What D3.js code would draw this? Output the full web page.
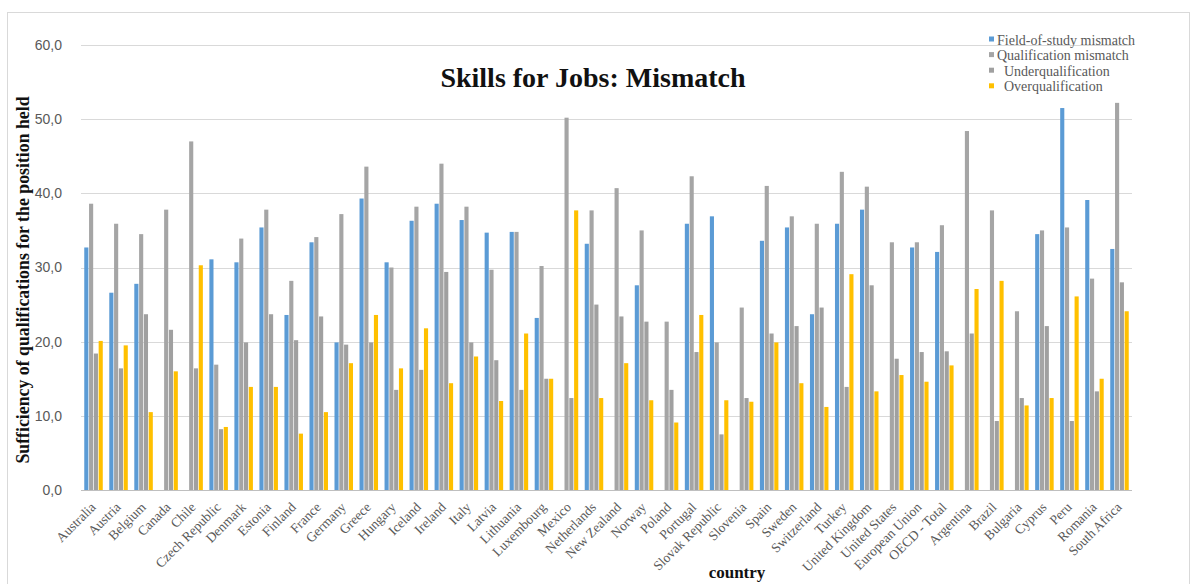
<!DOCTYPE html>
<html>
<head>
<meta charset="utf-8">
<script src="https://cdn.jsdelivr.net/npm/d3@7/dist/d3.min.js"></script>
<style>
  html, body { margin: 0; padding: 0; background: #fff; }
  svg { display: block; }
  text { white-space: pre; }
</style>
</head>
<body>
<svg id="chart" width="1195" height="584"></svg>
<script>
// Countries along the x axis
const countries = ["Australia","Austria","Belgium","Canada","Chile","Czech Republic","Denmark","Estonia","Finland","France","Germany","Greece","Hungary","Iceland","Ireland","Italy","Latvia","Lithuania","Luxembourg","Mexico","Netherlands","New Zealand","Norway","Poland","Portugal","Slovak Republic","Slovenia","Spain","Sweden","Switzerland","Turkey","United Kingdom","United States","European Union","OECD - Total","Argentina","Brazil","Bulgaria","Cyprus","Peru","Romania","South Africa"];

// Series names (legend order)
const seriesNames = ["Field-of-study mismatch", "Qualification mismatch", "  Underqualification", "  Overqualification"];

// Share of workers (%) per country; null = no data
const fieldOfStudy = [32.7,26.6,27.8,null,null,31.1,30.7,35.4,23.6,33.4,19.9,39.3,30.7,36.3,38.6,36.4,34.7,34.8,23.2,null,33.2,null,27.6,null,35.9,36.9,null,33.6,35.4,23.7,35.9,37.8,null,32.7,32.1,null,null,null,34.5,51.5,39.1,32.5];
const qualification = [38.6,35.9,34.5,37.8,47.0,16.9,33.9,37.8,28.2,34.1,37.2,43.6,30.0,38.2,44.0,38.2,29.7,34.8,30.2,50.2,37.7,40.7,35.0,22.7,42.3,19.9,24.6,41.0,36.9,35.9,42.9,40.9,33.4,33.4,35.7,48.4,37.7,24.1,35.0,35.4,28.5,52.2];
const underqualification = [18.4,16.4,23.7,21.6,16.4,8.2,19.9,23.7,20.2,23.4,19.6,19.9,13.5,16.2,29.4,19.9,17.5,13.5,15.0,12.4,25.0,23.4,22.7,13.5,18.6,7.5,12.4,21.1,22.1,24.6,13.9,27.6,17.7,18.6,18.7,21.1,9.3,12.4,22.1,9.3,13.3,28.0];
const overqualification = [20.1,19.5,10.5,16.0,30.3,8.5,13.9,13.9,7.6,10.5,17.1,23.6,16.4,21.8,14.4,18.0,12.0,21.1,15.0,37.7,12.4,17.1,12.1,9.1,23.6,12.1,11.9,19.9,14.4,11.2,29.1,13.3,15.5,14.6,16.8,27.1,28.2,11.4,12.4,26.1,15.0,24.1];

// Y axis ticks
const yTicks = [0, 10, 20, 30, 40, 50, 60];

const seriesValues = [fieldOfStudy, qualification, underqualification, overqualification];
const colors = ["#5b9bd5", "#a5a5a5", "#a0a0a0", "#ffc000"];

const svg = d3.select("#chart");
const plot = { left: 81, right: 1132, top: 45, bottom: 490 };

// Outer chart border
svg.append("rect")
  .attr("x", 7.5).attr("y", 12.5)
  .attr("width", 1182).attr("height", 590)
  .attr("fill", "#fff").attr("stroke", "#d9d9d9").attr("stroke-width", 1);

const x = d3.scaleBand().domain(countries).range([plot.left, plot.right]).paddingInner(0.26).paddingOuter(0.13);
const xi = d3.scaleBand().domain(d3.range(seriesNames.length)).range([0, x.bandwidth()]).paddingInner(0.14);
const y = d3.scaleLinear().domain([0, 60]).range([plot.bottom, plot.top]);

const locale = d3.formatLocale({ decimal: ",", thousands: ".", grouping: [3], currency: ["", ""] });
const fmt = locale.format(".1f");

// Gridlines
svg.append("g").selectAll("line").data(yTicks.filter(d => d > 0)).join("line")
  .attr("x1", plot.left).attr("x2", plot.right)
  .attr("y1", d => Math.round(y(d)) + 0.5).attr("y2", d => Math.round(y(d)) + 0.5)
  .attr("stroke", "#d9d9d9").attr("stroke-width", 1);

// Y axis labels
const yAxis = svg.append("g").attr("transform", `translate(${plot.left},0)`)
  .call(d3.axisLeft(y).tickValues(yTicks).tickFormat(fmt).tickSize(0).tickPadding(19));
yAxis.select(".domain").remove();
yAxis.selectAll("text")
  .attr("font-family", "'Liberation Sans', Arial, sans-serif")
  .attr("font-size", 14).attr("fill", "#595959");

// Bars
const rows = countries.map((c, i) => ({ country: c, values: seriesValues.map(s => s[i]) }));
const groups = svg.append("g").selectAll("g").data(rows).join("g")
  .attr("transform", d => `translate(${x(d.country)},0)`);
groups.selectAll("rect")
  .data(d => d.values.map((v, k) => ({ k, v })).filter(e => e.v != null))
  .join("rect")
  .attr("x", e => xi(e.k))
  .attr("width", xi.bandwidth())
  .attr("y", e => y(e.v))
  .attr("height", e => y(0) - y(e.v))
  .attr("fill", e => colors[e.k]);

// X axis
const xAxis = svg.append("g").attr("transform", `translate(0,${plot.bottom})`)
  .call(d3.axisBottom(x).tickSize(0).tickPadding(0));
xAxis.select(".domain").attr("stroke", "#bfbfbf").attr("d", `M${plot.left},0.5H${plot.right}`);
xAxis.selectAll("text")
  .attr("font-family", "'Liberation Serif', 'Times New Roman', serif")
  .attr("font-size", 13.5).attr("fill", "#595959")
  .attr("text-anchor", "end")
  .attr("dy", 0)
  .attr("transform", "translate(3,18) rotate(-45)");

// Title
svg.append("text")
  .attr("x", 593).attr("y", 87)
  .attr("text-anchor", "middle")
  .attr("font-family", "'Liberation Serif', 'Times New Roman', serif")
  .attr("font-weight", "bold").attr("font-size", 28).attr("fill", "#111")
  .text("Skills for Jobs: Mismatch");

// Axis titles
svg.append("text")
  .attr("transform", "translate(29,280) rotate(-90)")
  .attr("text-anchor", "middle")
  .attr("font-family", "'Liberation Serif', 'Times New Roman', serif")
  .attr("font-weight", "bold").attr("font-size", 17.8).attr("fill", "#111")
  .text("Sufficiency of qualifications for the position held");

svg.append("text")
  .attr("x", 737).attr("y", 578)
  .attr("text-anchor", "middle")
  .attr("font-family", "'Liberation Serif', 'Times New Roman', serif")
  .attr("font-weight", "bold").attr("font-size", 17).attr("fill", "#111")
  .text("country");

// Legend
const legend = svg.append("g").attr("transform", "translate(989,40)");
const li = legend.selectAll("g").data(seriesNames).join("g")
  .attr("transform", (d, i) => `translate(0,${i * 15.6})`);
li.append("rect").attr("x", 0).attr("y", -3.5).attr("width", 5).attr("height", 5)
  .attr("fill", (d, i) => colors[i]);
li.append("text").attr("x", 8).attr("y", 4.5)
  .attr("font-family", "'Liberation Serif', 'Times New Roman', serif")
  .attr("font-size", 14).attr("fill", "#595959")
  .text(d => d);
</script>
</body>
</html>
